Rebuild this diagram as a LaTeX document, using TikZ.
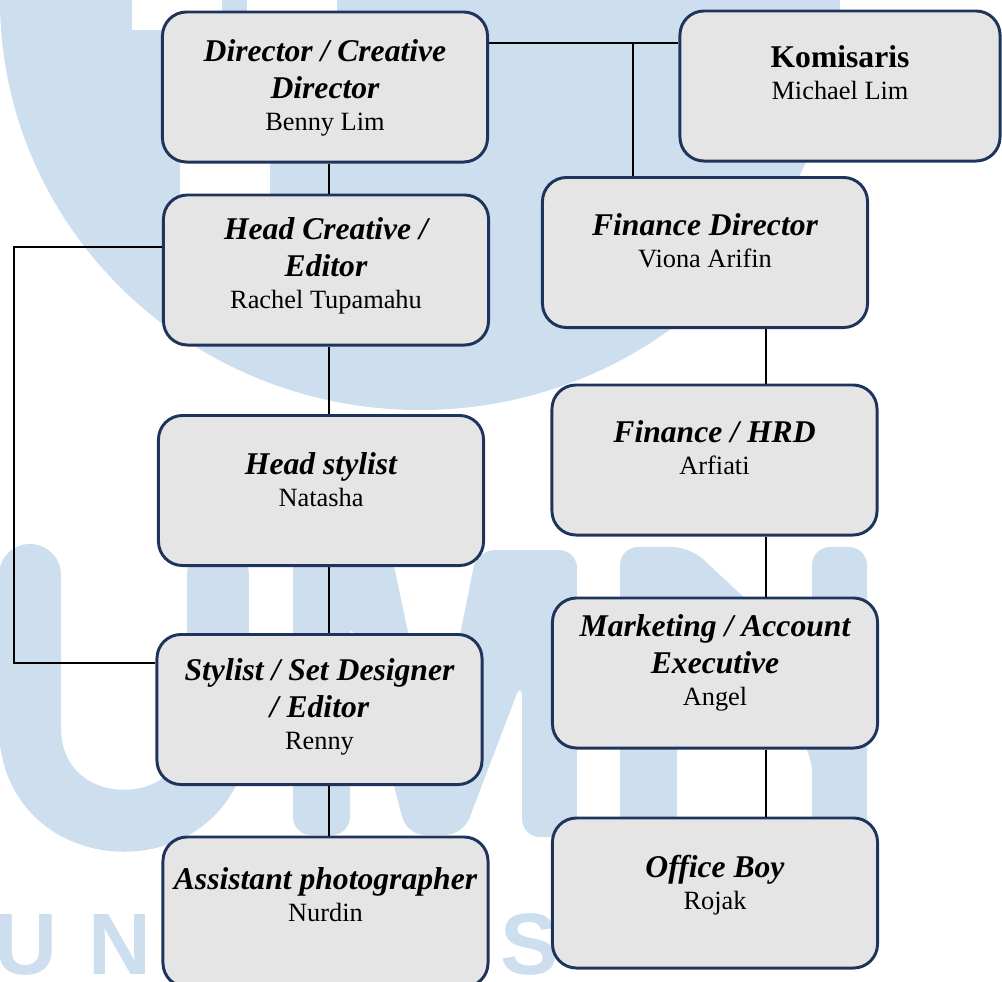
\documentclass[tikz,border=0pt]{standalone}
\usepackage{fontspec}
\setmainfont{Liberation Serif}
\newfontfamily\wmfont{Liberation Sans}
\usepackage{xcolor}
\definecolor{chartnavy}{RGB}{31, 52, 92}
\definecolor{chartgrey}{RGB}{229, 229, 229}
\definecolor{chartwatermark}{RGB}{205, 222, 238}

\newcommand{\titlefnt}{\fontsize{22.5}{26.2}\selectfont\bfseries\itshape}
\newcommand{\personfnt}{\fontsize{18.75}{22.7}\selectfont\mdseries\upshape}
\newcommand{\orgtext}[3]{\begin{minipage}[c][3.75cm][t]{7.8cm}\centering\vspace*{#1}%
{\titlefnt #2\par}{\personfnt #3\par}\end{minipage}}

\begin{document}
\begin{tikzpicture}[x=0.025cm, y=-0.025cm,
  orgbox/.style={draw=chartnavy, line width=2.1pt, rounded corners=0.6cm, fill=chartgrey, minimum width=8.125cm, minimum height=3.75cm, inner sep=0pt},
  link/.style={draw=black, line width=0.9pt},
  wm/.style={fill=chartwatermark, rounded corners=0.45cm},
  wmtext/.style={anchor=base, inner sep=0pt, text=chartwatermark, font=\wmfont\bfseries\fontsize{62}{62}\selectfont}]
\useasboundingbox (0,0) rectangle (1002,982);

% watermark behind the chart
\begin{scope}
\clip (0,0) rectangle (1002,982);
\fill[chartwatermark] (420,0) ellipse[x radius=420, y radius=410];
\fill[white] (132,0) rectangle (222,30);
\fill[white] (247,0) rectangle (337,30);
\fill[white] (180,150) rectangle (270,200);
\draw[chartwatermark, line width=1.55cm, line cap=round] (30,575) -- (30,727) .. controls (30,852) and (218,852) .. (218,727) -- (218,575);
\fill[wm] (293,835) -- (293,547) -- (390,547) -- (435,760) -- (477,550) -- (577,550) -- (577,837) -- (522,837) -- (522,680) -- (463,835) -- (407,835) -- (350,620) -- (350,835) -- cycle;
\fill[wm] (620,850) -- (620,547) -- (690,547) -- (812,661) -- (812,547) -- (867,547) -- (867,850) -- (812,850) -- (812,753) -- (677,593) -- (677,850) -- cycle;
\end{scope}
\node[wmtext] (wmu) at (26,974) {U};
\node[wmtext] (wmn) at (120,974) {N};
\node[wmtext] (wms) at (530,974) {S};

% left column
\node[orgbox] (director) at (325,87) {\orgtext{0.7cm}{Director / Creative\\ Director}{Benny Lim}};
\node[orgbox] (headcreative) at (326,270) {\orgtext{0.575cm}{Head Creative /\\ Editor}{Rachel Tupamahu}};
\node[orgbox] (headstylist) at (321,490.5) {\orgtext{0.925cm}{Head stylist}{Natasha}};
\node[orgbox] (stylist) at (319.5,709.5) {\orgtext{0.6cm}{Stylist / Set Designer\\ / Editor}{Renny}};
\node[orgbox] (assistant) at (325.5,912) {\orgtext{0.775cm}{Assistant photographer}{Nurdin}};

% right column
\node[orgbox, minimum width=8cm] (komisaris) at (840,86) {\orgtext{0.875cm}{\upshape Komisaris}{Michael Lim}};
\node[orgbox] (findirector) at (705,252.5) {\orgtext{0.9cm}{Finance Director}{Viona Arifin}};
\node[orgbox] (financehrd) at (714.5,460) {\orgtext{0.9cm}{Finance / HRD}{Arfiati}};
\node[orgbox] (marketing) at (715,673) {\orgtext{0.425cm}{Marketing / Account\\ Executive}{Angel}};
\node[orgbox] (officeboy) at (715,893) {\orgtext{0.925cm}{Office Boy}{Rojak}};

% connectors
\coordinate (tie) at (633,43);
\coordinate (leftspine) at (329,0);
\coordinate (rightspine) at (766,0);
\coordinate (looptop) at (14,247);
\coordinate (loopbot) at (14,663);
\draw[link] (tie -| director.east) -- (tie -| komisaris.west);
\draw[link] (tie) -- (tie |- findirector.north);
\draw[link] (leftspine |- director.south) -- (leftspine |- headcreative.north);
\draw[link] (leftspine |- headcreative.south) -- (leftspine |- headstylist.north);
\draw[link] (leftspine |- headstylist.south) -- (leftspine |- stylist.north);
\draw[link] (leftspine |- stylist.south) -- (leftspine |- assistant.north);
\draw[link] (looptop -| headcreative.west) -- (looptop) -- (loopbot) -- (loopbot -| stylist.west);
\draw[link] (rightspine |- findirector.south) -- (rightspine |- financehrd.north);
\draw[link] (rightspine |- financehrd.south) -- (rightspine |- marketing.north);
\draw[link] (rightspine |- marketing.south) -- (rightspine |- officeboy.north);
\end{tikzpicture}
\end{document}
